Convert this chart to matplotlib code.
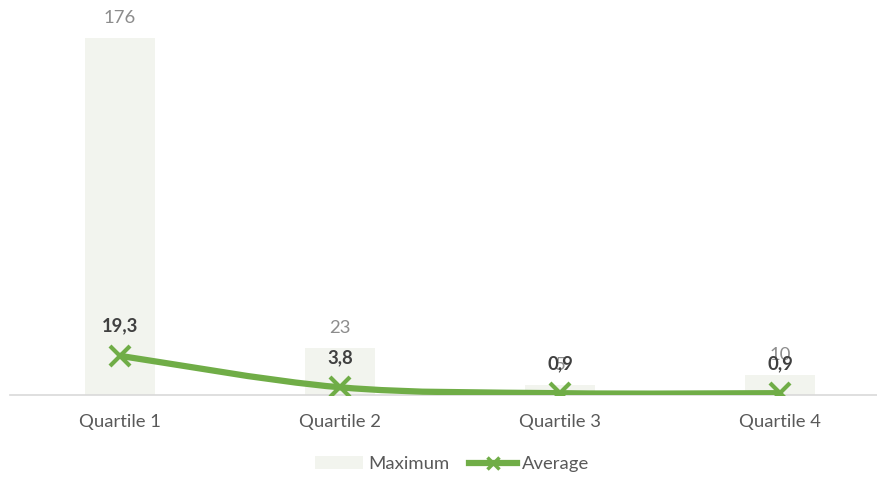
import matplotlib
matplotlib.use("Agg")
import matplotlib.pyplot as plt
from matplotlib.path import Path
from matplotlib.patches import PathPatch
from matplotlib.lines import Line2D
from matplotlib.patches import Patch
import numpy as np

categories = ["Quartile 1", "Quartile 2", "Quartile 3", "Quartile 4"]
maximum = [176, 23, 5, 10]
average = [19.3, 3.8, 0.9, 0.9]
avg_labels = ["19,3", "3,8", "0,9", "0,9"]

plt.rcParams['font.family'] = ['Lato', 'DejaVu Sans']

W, H = 878, 478
fig = plt.figure(figsize=(W / 100, H / 100), dpi=100)
left_px, right_px, base_px = 10, 878, 395
ax = fig.add_axes([left_px / W, (H - base_px) / H, (right_px - left_px) / W, base_px / H])

x = np.arange(len(categories))
bar_color = "#F2F4EE"
green = "#70AD47"
fs = 13.3

ax.bar(x, maximum, width=0.32, color=bar_color, zorder=1)

# smoothed line (cubic Bezier through the data points, Catmull-Rom tangents)
pts = np.column_stack([x, average]).astype(float)
ext = np.vstack([pts[0], pts, pts[-1]])
verts = [tuple(pts[0])]
codes = [Path.MOVETO]
for i in range(len(pts) - 1):
    p0, p1, p2, p3 = ext[i], ext[i + 1], ext[i + 2], ext[i + 3]
    c1 = p1 + (p2 - p0) / 6.0
    c2 = p2 - (p3 - p1) / 6.0
    verts += [tuple(c1), tuple(c2), tuple(p2)]
    codes += [Path.CURVE4] * 3
ax.add_patch(PathPatch(Path(verts, codes), fill=False, edgecolor=green,
                       lw=4.5, capstyle='round', joinstyle='round', zorder=3))
ax.plot(x, average, linestyle='none', marker='x', markersize=15, mew=3,
        color=green, zorder=4)

for xi, v in zip(x, maximum):
    ax.annotate(str(v), (xi, v), xytext=(0, 14.5), textcoords='offset points',
                ha='center', va='center', fontsize=fs, color='#8C8C8C', zorder=5)
for xi, v, s in zip(x, average, avg_labels):
    ax.annotate(s, (xi, v), xytext=(0, 21.5), textcoords='offset points',
                ha='center', va='center', fontsize=fs, fontweight='bold',
                color='#404040', zorder=6)

ax.set_xlim(-0.5, (right_px - left_px) / 220 - 0.5)
ax.set_ylim(0, base_px / (357 / 176))
ax.set_xticks(x)
ax.set_xticklabels(categories, fontsize=fs, color='#595959')
ax.tick_params(axis='x', length=0, pad=14)
ax.set_yticks([])
for s in ['top', 'right', 'left']:
    ax.spines[s].set_visible(False)
ax.spines['bottom'].set_color('#D9D9D9')
ax.spines['bottom'].set_linewidth(1.2)
ax.patch.set_alpha(0)

handles = [Patch(facecolor=bar_color, edgecolor='none'),
           Line2D([0], [0], color=green, lw=4.5, marker='x', markersize=9, mew=2.5)]
fig.legend(handles, ["Maximum", "Average"], loc='center', bbox_to_anchor=(0.515, 1 - 464 / H),
           ncol=2, frameon=False, fontsize=fs, labelcolor='#595959',
           handlelength=2.6, handletextpad=0.25, columnspacing=1.1)

fig.savefig("out.png", dpi=100)
